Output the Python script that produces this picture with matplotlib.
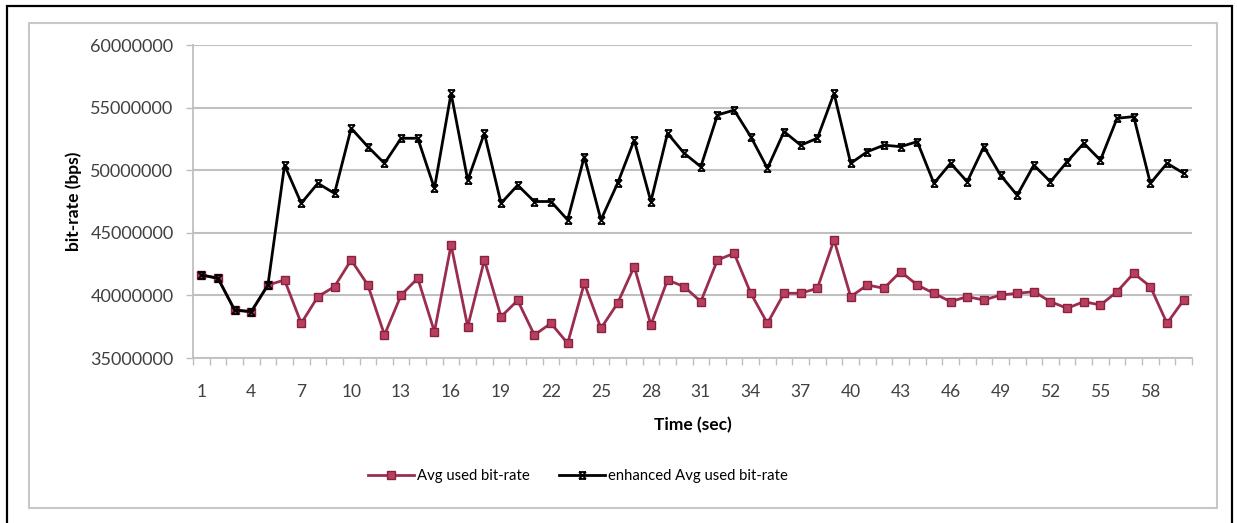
import matplotlib
matplotlib.use("Agg")
import matplotlib.pyplot as plt
from matplotlib.path import Path
from matplotlib.patches import Rectangle
from matplotlib.ticker import FixedLocator, NullFormatter

plt.rcParams['font.family'] = ['Lato', 'DejaVu Sans']

time_sec = list(range(1, 61))
avg_used = [41.63, 41.37, 38.83, 38.7, 40.83, 41.23, 37.77, 39.9, 40.7, 42.83,
            40.83, 36.84, 40.03, 41.37, 37.1, 44.03, 37.5, 42.83, 38.3, 39.6,
            36.84, 37.77, 36.17, 40.96, 37.37, 39.37, 42.3, 37.64, 41.23, 40.7,
            39.5, 42.83, 43.36, 40.17, 37.77, 40.17, 40.17, 40.57, 44.43, 39.9,
            40.83, 40.57, 41.9, 40.83, 40.17, 39.5, 39.9, 39.63, 40.03, 40.17,
            40.3, 39.5, 38.97, 39.5, 39.23, 40.3, 41.77, 40.7, 37.77, 39.63]
enhanced = [41.63, 41.37, 38.83, 38.7, 40.83, 50.4, 47.36, 48.95, 48.15, 53.35,
            51.88, 50.55, 52.55, 52.55, 48.55, 56.14, 49.2, 52.95, 47.36, 48.8,
            47.5, 47.5, 46.03, 51.08, 46.03, 48.95, 52.4, 47.5, 52.95, 51.35,
            50.28, 54.41, 54.8, 52.68, 50.15, 53.08, 52.0, 52.55, 56.14, 50.55,
            51.48, 52.0, 51.88, 52.28, 48.95, 50.55, 49.08, 51.88, 49.6, 48.0,
            50.4, 49.08, 50.68, 52.15, 50.8, 54.15, 54.28, 48.95, 50.55, 49.76]
avg_used = [v * 1e6 for v in avg_used]
enhanced = [v * 1e6 for v in enhanced]
series_labels = ["Avg used bit-rate", "enhanced Avg used bit-rate"]
x_ticks = list(range(1, 61, 3))
y_ticks = [35000000, 40000000, 45000000, 50000000, 55000000, 60000000]

W, H = 1237, 523
fig = plt.figure(figsize=(W / 100, H / 100), dpi=100)
fig.patch.set_facecolor('white')

# outer black frame and inner gray chart-area frame
fig.patches.append(Rectangle((7 / W, -0.02), (1232 - 7) / W, 1.02 - 6 / H, transform=fig.transFigure,
                             fill=False, edgecolor='black', linewidth=1.6))
fig.patches.append(Rectangle((29 / W, 1 - 508 / H), (1217 - 29) / W, (508 - 23) / H,
                             transform=fig.transFigure, fill=False, edgecolor='#c8c8c8', linewidth=1.5))

ax = fig.add_axes([193 / W, 1 - 358 / H, (1192 - 193) / W, (358 - 45) / H])

star = Path([(-1, -1), (1, 1), (-1, 1), (1, -1), (-1, 1), (1, 1), (-1, -1), (1, -1)],
            [Path.MOVETO, Path.LINETO, Path.MOVETO, Path.LINETO,
             Path.MOVETO, Path.LINETO, Path.MOVETO, Path.LINETO])

ax.plot(time_sec, avg_used, color='#9B2D4F', lw=2, marker='s', markersize=5.5,
        markerfacecolor='#B8405F', markeredgecolor='#8B2040', markeredgewidth=1,
        label=series_labels[0], zorder=3)
ax.plot(time_sec, enhanced, color='black', lw=2, marker=star, markersize=5,
        markeredgewidth=1.3, markerfacecolor='black', label=series_labels[1], zorder=4)

ax.set_xlim(0.5, 60.5)
ax.set_ylim(35000000, 60000000)
ax.set_yticks(y_ticks)
ax.set_yticklabels([str(v) for v in y_ticks])
ax.set_xticks(x_ticks)
ax.set_xticklabels([str(v) for v in x_ticks])
ax.xaxis.set_minor_locator(FixedLocator([i + 0.5 for i in range(0, 61)]))
ax.xaxis.set_minor_formatter(NullFormatter())
ax.tick_params(axis='x', which='major', length=0, pad=19, labelsize=12.5, labelcolor='#404040')
ax.tick_params(axis='x', which='minor', length=5, color='#bfbfbf', width=1)
ax.tick_params(axis='y', length=5, color='#bfbfbf', width=1, pad=9, labelsize=13, labelcolor='#404040')

ax.grid(axis='y', color='#c0c0c0', linewidth=1.5)
ax.set_axisbelow(True)
for s in ['top', 'right']:
    ax.spines[s].set_visible(False)
for s in ['left', 'bottom']:
    ax.spines[s].set_color('#bfbfbf')
    ax.spines[s].set_linewidth(1.3)

ax.set_xlabel('Time (sec)', fontsize=12.5, fontweight='bold', labelpad=12)
ax.set_ylabel('bit-rate (bps)', fontsize=12.5, fontweight='bold', labelpad=6)

fig.legend(loc='center', bbox_to_anchor=(578 / W, 1 - 476 / H), ncol=2, frameon=False,
           fontsize=10.7, handlelength=3.1, columnspacing=2.0, handletextpad=0.2)

fig.savefig('out.png', dpi=100, facecolor='white')
